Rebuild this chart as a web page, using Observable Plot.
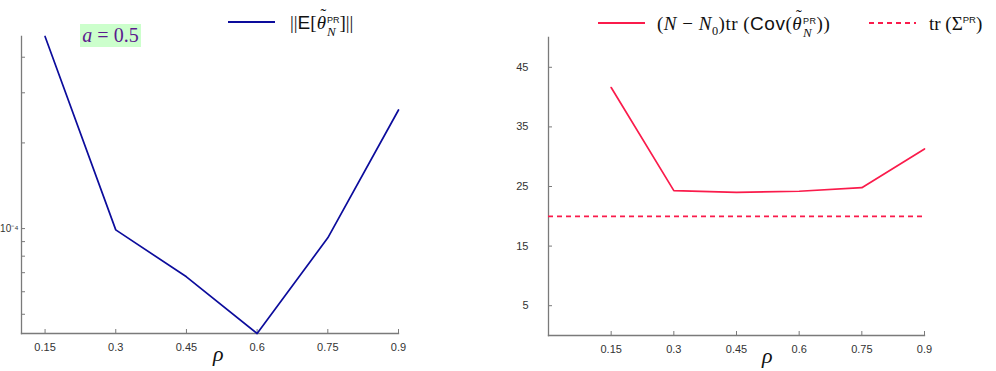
<!DOCTYPE html>
<html>
<head>
<meta charset="utf-8">
<script src="https://cdn.jsdelivr.net/npm/d3@7"></script>
<script src="https://cdn.jsdelivr.net/npm/@observablehq/plot@0.6"></script>
<style>
  html, body { margin: 0; padding: 0; background: #fff; }
  #root { position: relative; width: 996px; height: 371px; overflow: hidden; font-family: "Liberation Sans", Arial, sans-serif; }
  .panel { position: absolute; top: 0; }
  .abs { position: absolute; white-space: nowrap; line-height: 1; }
  .it { font-style: italic; }
  .sans { font-family: "Liberation Sans", Arial, sans-serif; font-style: normal; }
  .th { position: relative; display: inline-block; font-style: italic; }
  .th::after { content: "˜"; position: absolute; left: 0.22em; top: -0.42em; font-style: normal; font-size: 0.9em; }
  .ss { display: inline-block; vertical-align: -0.35em; margin-left: 1px; text-align: left; }
  .ss .sup { display: block; font-size: 9px; line-height: 10px; font-family: "Liberation Sans", Arial, sans-serif; font-style: normal; }
  .ss .sub { display: block; font-size: 13px; line-height: 13px; font-style: italic; }
  svg.leg { position: absolute; overflow: visible; }
</style>
</head>
<body>
<div id="root"></div>
<script>
// ---- data ----
const rho = [0.15, 0.3, 0.45, 0.6, 0.75, 0.9];
const biasNorm = [4.73e-4, 9.9e-5, 6.77e-5, 4.28e-5, 9.28e-5, 2.61e-4];
const scaledCovTrace = [41.6, 24.3, 24.0, 24.2, 24.8, 31.3];
const sigmaTrace = 20;
const xTicks = [0.15, 0.3, 0.45, 0.6, 0.75, 0.9];
const logTicks = [4e-4, 3e-4, 2e-4, 1e-4, 9e-5, 8e-5, 7e-5, 6e-5, 5e-5];
const logLabelTicks = [1e-4];
const linTicks = [5, 15, 25, 35, 45];

const blue = "#0c0c9c";
const red = "#fa1b4b";
const axisGray = "#7a7a7a";

const root = document.getElementById("root");

const leftData = rho.map((r, i) => ({rho: r, v: biasNorm[i]}));
const rightData = rho.map((r, i) => ({rho: r, v: scaledCovTrace[i]}));

// ---- left panel ----
const L = {w: 498, h: 371, ml: 21, mr: 100, mt: 36, mb: 38};
const Lpw = L.w - L.ml - L.mr, Lph = L.h - L.mt - L.mb;
const left = Plot.plot({
  width: L.w, height: L.h,
  marginLeft: L.ml, marginRight: L.mr, marginTop: L.mt, marginBottom: L.mb,
  style: {fontFamily: "Liberation Sans, Arial, sans-serif", fontSize: "11px", color: "#333", background: "transparent", overflow: "visible"},
  x: {domain: [0.1, 0.9]},
  y: {type: "log", domain: [4.28e-5, 4.73e-4]},
  marks: [
    Plot.axisX({ticks: xTicks, tickSize: 0, tickPadding: 10, tickFormat: d => String(d), label: null, fill: "#333"}),
    Plot.axisY({ticks: logLabelTicks, tickSize: 0, tickPadding: 3, tickFormat: () => "10⁻⁴", label: null, fontSize: 10, fill: "#333"}),
    Plot.tickX(xTicks, {x: d => d, insetTop: Lph - 4, stroke: axisGray}),
    Plot.tickY(logTicks, {y: d => d, insetRight: Lpw - 4, stroke: axisGray}),
    Plot.frame({anchor: "left", stroke: axisGray, strokeWidth: 1.3}),
    Plot.frame({anchor: "bottom", stroke: axisGray, strokeWidth: 1.3}),
    Plot.line(leftData, {x: "rho", y: "v", stroke: blue, strokeWidth: 1.7})
  ]
});
const lp = document.createElement("div");
lp.className = "panel"; lp.style.left = "0px";
lp.appendChild(left);
root.appendChild(lp);

// ---- right panel ----
const R = {w: 498, h: 371, ml: 50, mr: 72, mt: 37, mb: 36};
const Rpw = R.w - R.ml - R.mr, Rph = R.h - R.mt - R.mb;
const right = Plot.plot({
  width: R.w, height: R.h,
  marginLeft: R.ml, marginRight: R.mr, marginTop: R.mt, marginBottom: R.mb,
  style: {fontFamily: "Liberation Sans, Arial, sans-serif", fontSize: "11px", color: "#333", background: "transparent", overflow: "visible"},
  x: {domain: [0, 0.9]},
  y: {domain: [0, 50]},
  marks: [
    Plot.axisX({ticks: xTicks, tickSize: 0, tickPadding: 10, tickFormat: d => String(d), label: null, fill: "#333"}),
    Plot.axisY({ticks: linTicks, tickSize: 0, tickPadding: 20, tickFormat: d => String(d), label: null, fill: "#333"}),
    Plot.tickX(xTicks, {x: d => d, insetTop: Rph - 4, stroke: axisGray}),
    Plot.tickY(linTicks, {y: d => d, insetRight: Rpw - 4, stroke: axisGray}),
    Plot.frame({anchor: "left", stroke: axisGray, strokeWidth: 1.3}),
    Plot.frame({anchor: "bottom", stroke: axisGray, strokeWidth: 1.3}),
    Plot.ruleY([sigmaTrace], {stroke: red, strokeWidth: 1.7, strokeDasharray: "5,4"}),
    Plot.line(rightData, {x: "rho", y: "v", stroke: red, strokeWidth: 1.7})
  ]
});
const rp = document.createElement("div");
rp.className = "panel"; rp.style.left = "498px";
rp.appendChild(right);
root.appendChild(rp);

// ---- overlays: legends, annotation, axis labels ----
const serif = "Liberation Serif, DejaVu Serif, serif";
function add(html, x, y, extraStyle) {
  const d = document.createElement("div");
  d.className = "abs";
  d.style.left = x + "px"; d.style.top = y + "px";
  if (extraStyle) Object.assign(d.style, extraStyle);
  d.innerHTML = html;
  root.appendChild(d);
  return d;
}
function legLine(x, y, color, dashed) {
  const ns = "http://www.w3.org/2000/svg";
  const s = document.createElementNS(ns, "svg");
  s.setAttribute("class", "leg");
  s.setAttribute("width", 48); s.setAttribute("height", 4);
  s.style.left = x + "px"; s.style.top = (y - 2) + "px";
  const l = document.createElementNS(ns, "line");
  l.setAttribute("x1", 0); l.setAttribute("x2", 47);
  l.setAttribute("y1", 2); l.setAttribute("y2", 2);
  l.setAttribute("stroke", color); l.setAttribute("stroke-width", 1.8);
  if (dashed) l.setAttribute("stroke-dasharray", "5,4");
  s.appendChild(l);
  root.appendChild(s);
}
const thetaPR = '<span class="th">θ</span><span class="ss"><span class="sup">PR</span><span class="sub">N</span></span>';
const legStyle = {fontSize: "19px", fontFamily: serif, color: "#111"};

// annotation a = 0.5
add('<span class="it">a</span> = 0.5', 80, 24, {
  background: "#ccffcc", color: "#5b1a8e", fontSize: "20px",
  fontFamily: serif, height: "23px", lineHeight: "23px", width: "61px", textAlign: "center"
});

// left legend
legLine(228, 22, blue, false);
add('||<span class="sans">E</span>[' + thetaPR + ']||', 290, 13, legStyle);

// right legend
legLine(598, 23, red, false);
add('(<span class="it">N</span> − <span class="it">N</span><sub style="font-size:0.65em">0</sub>)tr (<span class="sans">Cov</span>(' + thetaPR + '))',
    657, 14, Object.assign({}, legStyle, {letterSpacing: "0.5px"}));
legLine(869, 23, red, true);
add('tr (Σ<sup style="font-size:0.5em;font-family:Liberation Sans,Arial,sans-serif">PR</sup>)', 929, 14, legStyle);

// axis labels
add('ρ', 213, 343, {fontSize: "22px", fontStyle: "italic", fontFamily: serif, color: "#111"});
add('ρ', 762, 345, {fontSize: "22px", fontStyle: "italic", fontFamily: serif, color: "#111"});
</script>
</body>
</html>
